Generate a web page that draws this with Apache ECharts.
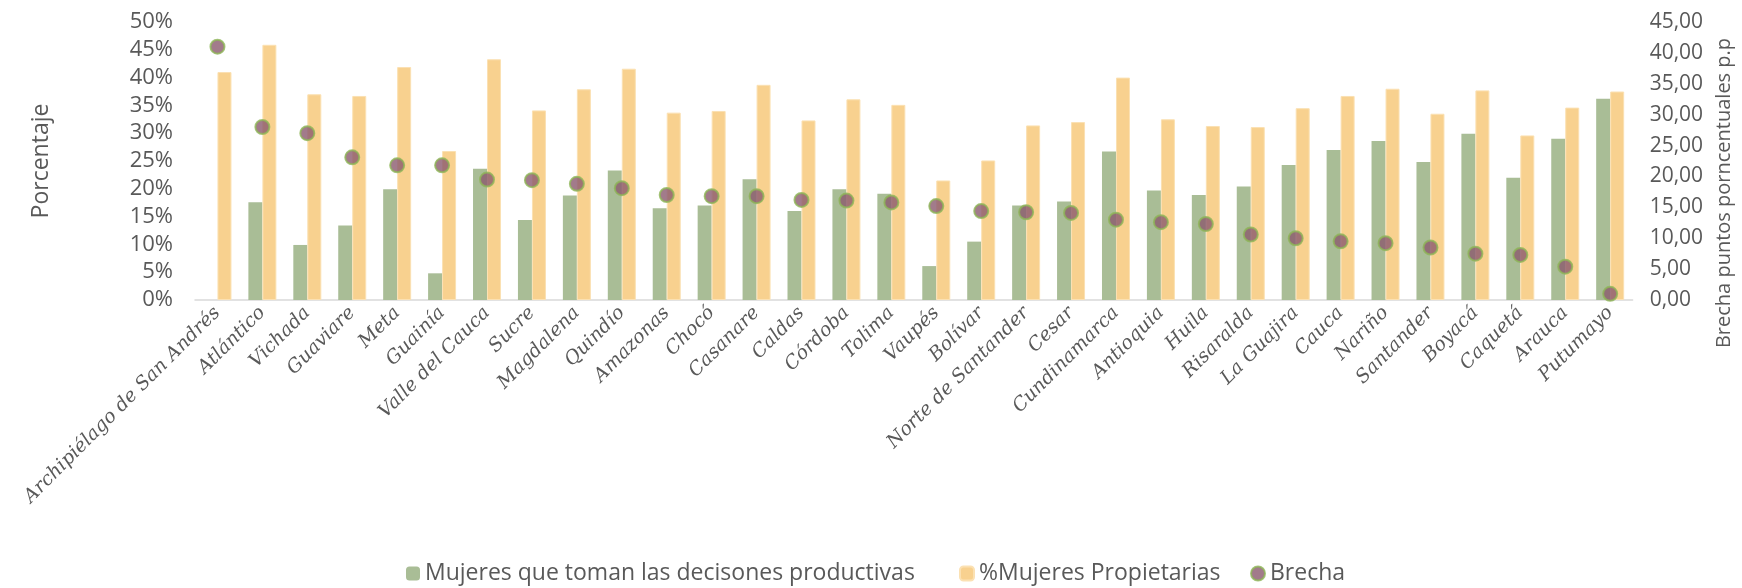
<!DOCTYPE html>
<html>
<head>
<meta charset="utf-8">
<style>
html, body { margin: 0; padding: 0; background: #fff; }
#chart-panel { position: absolute; left: 0; top: 0; width: 1742px; height: 588px; }
</style>
<script src="https://cdn.jsdelivr.net/npm/echarts@6/dist/echarts.min.js"></script>
</head>
<body>
<div id="chart-panel"></div>
<script type="text/javascript">
// departamentos, en el orden del gráfico
var departamentos = ['Archipiélago de San Andrés', 'Atlántico', 'Vichada', 'Guaviare', 'Meta', 'Guainía',
    'Valle del Cauca', 'Sucre', 'Magdalena', 'Quindío', 'Amazonas', 'Chocó', 'Casanare', 'Caldas', 'Córdoba',
    'Tolima', 'Vaupés', 'Bolívar', 'Norte de Santander', 'Cesar', 'Cundinamarca', 'Antioquia', 'Huila',
    'Risaralda', 'La Guajira', 'Cauca', 'Nariño', 'Santander', 'Boyacá', 'Caquetá', 'Arauca', 'Putumayo'];

// % mujeres que toman las decisiones productivas
var decisiones = [0, 17.6, 9.9, 13.4, 19.9, 4.8, 23.6, 14.4, 18.8, 23.3, 16.5, 17.0, 21.7, 16.0, 19.9,
    19.1, 6.1, 10.5, 17.0, 17.7, 26.7, 19.7, 18.9, 20.4, 24.3, 27.0, 28.6, 24.8, 29.9, 22.0, 29.0, 36.2];

// % mujeres propietarias
var propietarias = [41.0, 45.9, 37.0, 36.7, 41.9, 26.8, 43.3, 34.1, 37.9, 41.6, 33.7, 34.0, 38.7, 32.3, 36.1,
    35.1, 21.5, 25.1, 31.4, 32.0, 40.0, 32.5, 31.3, 31.1, 34.5, 36.7, 38.0, 33.5, 37.7, 29.6, 34.6, 37.5];

// brecha en puntos porcentuales
var brecha = [41.0, 28.0, 27.0, 23.1, 21.8, 21.8, 19.5, 19.4, 18.8, 18.1, 17.0, 16.8, 16.8, 16.2, 16.1,
    15.8, 15.2, 14.4, 14.2, 14.1, 13.0, 12.6, 12.3, 10.6, 10.0, 9.5, 9.2, 8.5, 7.5, 7.3, 5.4, 1.0];

var nombres = ['Mujeres que toman las decisones productivas', '%Mujeres Propietarias', 'Brecha'];

var gris = '#595959';
var fuente = "'Open Sans', 'Noto Sans', sans-serif";

var myChart = echarts.init(document.getElementById('chart-panel'));

// una leyenda por serie, asi se puede fijar el espacio entre ellas
var leyendaIzq = [401, 954, 1245];
var leyendas = nombres.map(function (n, i) {
    return {
        top: 557,
        left: leyendaIzq[i],
        itemWidth: 14,
        itemHeight: 14,
        textStyle: { color: gris, fontSize: 23, fontFamily: fuente },
        data: [n]
    };
});

var option = {
    animation: false,
    grid: { left: 195, right: 98, top: 22, bottom: 288 },
    legend: leyendas,
    xAxis: {
        type: 'category',
        data: departamentos,
        axisLine: { lineStyle: { color: '#d9d9d9', width: 1.5 } },
        axisTick: { show: false },
        axisLabel: {
            interval: 0,
            rotate: 45,
            margin: 10,
            color: gris,
            fontSize: 19,
            fontStyle: 'italic',
            fontFamily: "'DejaVu Serif', serif"
        }
    },
    yAxis: [
        {
            type: 'value',
            min: 0,
            max: 50,
            interval: 5,
            name: 'Porcentaje',
            nameLocation: 'middle',
            nameGap: 142,
            nameTextStyle: { color: gris, fontSize: 23, fontFamily: fuente },
            splitLine: { show: false },
            axisLine: { show: false },
            axisTick: { show: false },
            axisLabel: {
                margin: 22,
                color: gris,
                fontSize: 22,
                fontFamily: fuente,
                formatter: '{value}%'
            }
        },
        {
            type: 'value',
            min: 0,
            max: 45,
            interval: 5,
            name: 'Brecha puntos porncentuales p.p',
            nameLocation: 'middle',
            nameGap: 66,
            nameTextStyle: { color: gris, fontSize: 20, fontFamily: fuente, padding: [0, 64, 0, 0] },
            splitLine: { show: false },
            axisLine: { show: false },
            axisTick: { show: false },
            axisLabel: {
                margin: 17,
                color: gris,
                fontSize: 21,
                fontFamily: fuente,
                formatter: function (v) { return v.toFixed(2).replace('.', ','); }
            }
        }
    ],
    series: [
        {
            name: nombres[0],
            type: 'bar',
            yAxisIndex: 0,
            data: decisiones,
            barWidth: 14,
            barGap: '0%',
            itemStyle: { color: '#a9bd96' }
        },
        {
            name: nombres[1],
            type: 'bar',
            yAxisIndex: 0,
            data: propietarias,
            barWidth: 14,
            itemStyle: { color: '#f8d18f', borderColor: '#fbe1b3', borderWidth: 1 }
        },
        {
            name: nombres[2],
            type: 'scatter',
            yAxisIndex: 1,
            data: brecha,
            z: 5,
            symbol: 'circle',
            symbolSize: 14,
            itemStyle: { color: '#8b5a6e', borderColor: '#8db556', borderWidth: 2 }
        }
    ]
};

myChart.setOption(option);
</script>
</body>
</html>
